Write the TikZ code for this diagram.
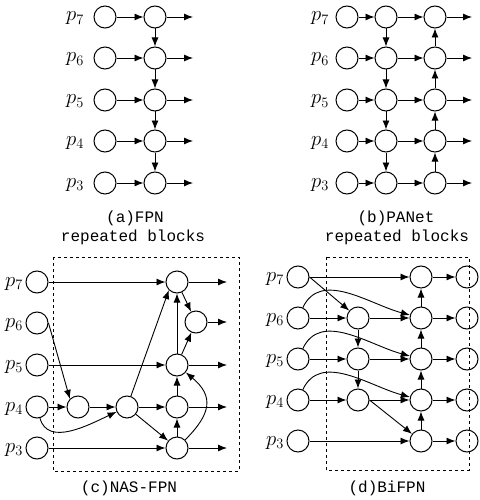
\documentclass[tikz,border=0pt]{standalone}
\usepackage{fontspec}
\usetikzlibrary{arrows.meta}
\newfontfamily\capfont{Liberation Mono}
\begin{document}
\begin{tikzpicture}[x=1pt,y=-1pt,
  nd/.style={draw,circle,minimum size=22pt,inner sep=0pt,line width=1pt},
  arr/.style={-{Latex[length=9pt,width=7pt]},line width=0.9pt},
  lbl/.style={anchor=base east,inner sep=0pt,font=\fontsize{20}{20}\selectfont},
  captxt/.style={font=\capfont\fontsize{16}{16}\selectfont,inner sep=0pt},
  dbox/.style={draw,dashed,line width=0.9pt}]
\useasboundingbox (0,0) rectangle (479,500);

% ---------- (a) FPN ----------
\foreach \k/\y in {7/17,6/58,5/100,4/141,3/183} {
  \node[nd] (a1\k) at (105,\y) {};
  \node[nd] (a2\k) at (155,\y) {};
  \node[lbl] (al\k) at (84,\y+4) {$p_{\k}$};
  \coordinate (ao\k) at (193,\y);
  \draw[arr] (a1\k) -- (a2\k);
  \draw[arr] (a2\k) -- (ao\k);
}
\foreach \u/\d in {7/6,6/5,5/4,4/3} \draw[arr] (a2\u) -- (a2\d);
\node[captxt] (capa1) at (135,218) {(a)FPN};
\node[captxt] (capa2) at (133,237) {repeated blocks};

% ---------- (b) PANet ----------
\foreach \k/\y in {7/17,6/58,5/100,4/141,3/183} {
  \node[nd] (b1\k) at (347,\y) {};
  \node[nd] (b2\k) at (386,\y) {};
  \node[nd] (b3\k) at (435,\y) {};
  \node[lbl] (bl\k) at (329,\y+4) {$p_{\k}$};
  \coordinate (bo\k) at (472,\y);
  \draw[arr] (b1\k) -- (b2\k);
  \draw[arr] (b2\k) -- (b3\k);
  \draw[arr] (b3\k) -- (bo\k);
}
\foreach \u/\d in {7/6,6/5,5/4,4/3} {
  \draw[arr] (b2\u) -- (b2\d);
  \draw[arr] (b3\d) -- (b3\u);
}
\node[captxt] (capb1) at (396,218) {(b)PANet};
\node[captxt] (capb2) at (397,237) {repeated blocks};

% ---------- (c) NAS-FPN ----------
\draw[dbox] (53,257) rectangle (239,471);
\foreach \k/\y in {7/282,6/323,5/365,4/407,3/448} {
  \node[nd] (cp\k) at (37,\y) {};
  \node[lbl] (cl\k) at (23,\y+4) {$p_{\k}$};
}
\node[nd] (cA) at (78,407) {};
\node[nd] (cB) at (127,407) {};
\node[nd] (cC7) at (177,282) {};
\node[nd] (cC5) at (177,365) {};
\node[nd] (cC4) at (177,407) {};
\node[nd] (cC3) at (177,448) {};
\node[nd] (cD) at (196,322) {};
\foreach \n/\y in {C7/282,D/322,C5/365,C4/407,C3/448} {
  \coordinate (co\n) at (227,\y);
  \draw[arr] (c\n) -- (co\n);
}
\draw[arr] (cp7) -- (cC7);
\draw[arr] (cp6.east) -- (cA.north west);
\draw[arr] (cp5) -- (cC5);
\draw[arr] (cp4) -- (cA);
\draw[arr] (cp4) to[out=-75,in=-155] (cB);
\draw[arr] (cp3) -- (cC3);
\draw[arr] (cA) -- (cB);
\draw[arr] (cB) -- (cC7.south west);
\draw[arr] (cB) -- (cC4);
\draw[arr] (cB) -- (cC3);
\draw[arr] (cC3) -- (cC4);
\draw[arr] (cC4) -- (cC5);
\draw[arr] (cC5) -- (cC7);
\draw[arr] (cC7) -- (cD);
\draw[arr] (cC5) -- (cD);
\draw[arr] (cC3) to[out=45,in=-40,looseness=1.4] (cC5);
\node[captxt] (capc) at (129,488) {(c)NAS-FPN};

% ---------- (d) BiFPN ----------
\foreach \k/\y in {7/277,6/318,5/359,4/400,3/441} {
  \node[nd] (dp\k) at (298,\y) {};
  \node[nd] (dR\k) at (421,\y) {};
  \node[nd] (dO\k) at (467,\y) {};
  \node[lbl] (dl\k) at (284,\y+4) {$p_{\k}$};
  \draw[arr] (dR\k) -- (dO\k);
}
\foreach \k/\y in {6/318,5/359,4/400} {
  \node[nd] (dM\k) at (358,\y) {};
  \draw[arr] (dp\k) -- (dM\k);
  \draw[arr] (dM\k) -- (dR\k);
  \draw[arr] (dp\k) to[out=65,in=165] (dR\k);
}
\draw[arr] (dp7) -- (dR7);
\draw[arr] (dp3) -- (dR3);
\draw[arr] (dp7.east) -- (dM6);
\draw[arr] (dM6) -- (dM5);
\draw[arr] (dM5) -- (dM4);
\draw[arr] (dM4.east) -- (dR3);
\foreach \u/\d in {7/6,6/5,5/4,4/3} \draw[arr] (dR\d) -- (dR\u);
\draw[dbox] (326,257) rectangle (469,470);
\node[captxt] (capd) at (387,488) {(d)BiFPN};
\end{tikzpicture}
\end{document}
